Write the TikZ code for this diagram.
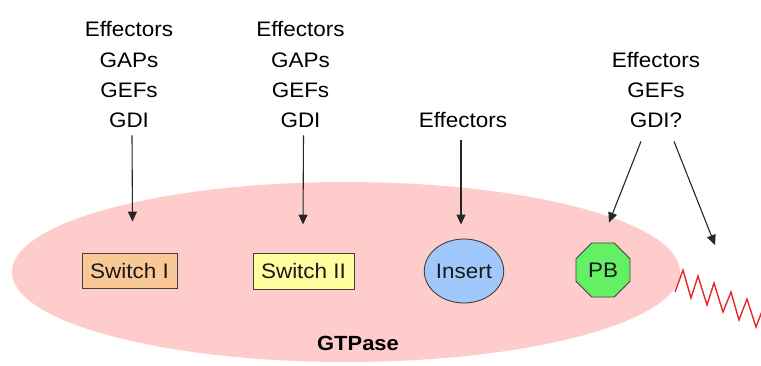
\documentclass[tikz,border=0pt]{standalone}
\usepackage{fontspec}
\setmainfont[FakeStretch=1.07]{Liberation Sans}
\usetikzlibrary{arrows.meta,shapes.geometric,calc}
\definecolor{membrane}{RGB}{255,204,204}
\definecolor{swone}{RGB}{250,200,150}
\definecolor{swtwo}{RGB}{255,255,160}
\definecolor{insertblue}{RGB}{160,200,250}
\definecolor{pbgreen}{RGB}{100,240,100}
\definecolor{coil}{RGB}{228,40,44}
\tikzset{
  lbl/.style={font=\fontsize{21}{25}\selectfont, inner sep=0pt, anchor=base},
  region/.style={draw=black!75, line width=0.9pt, inner sep=0pt,
                 font=\fontsize{21}{25}\selectfont, text=black!90},
  hit/.style={draw=black!85, line width=1.1pt,
              -{Triangle[length=10pt,width=9pt]}},
}
\begin{document}
\begin{tikzpicture}[x=1pt,y=-1pt]
\useasboundingbox (0,0) rectangle (761,365);

% the GTPase body
\fill[membrane] (346,272) ellipse [x radius=334, y radius=90];
\node[font=\fontsize{20.5}{24}\selectfont\bfseries, inner sep=0pt, anchor=base] (gtp) at (358,350) {GTPase};

% structural regions
\node[region, fill=swone, rectangle, minimum width=95pt, minimum height=35pt] (sw1) at (129.5,270.5) {Switch I};
\node[region, fill=swtwo, rectangle, minimum width=101pt, minimum height=36pt] (sw2) at (303.5,271) {Switch II};
\node[region, fill=insertblue, ellipse, minimum width=76pt, minimum height=64pt] (ins) at (464,271) {Insert};
\node[region, fill=pbgreen, regular polygon, regular polygon sides=8, minimum size=58.5pt] (pb) at (603,270) {PB};

% C-terminal tail
\draw[coil, line width=1.4pt, line join=miter]
  (675,292) -- (683,270) -- (691,298) -- (698,276) -- (707,305) -- (714,283)
  -- (723,312) -- (731,292) -- (739,320) -- (747,299) -- (756,327) -- (764,306);
\coordinate (tail) at (715,245);

% interacting partners
\node[lbl] (c1a) at (129,36) {Effectors};
\node[lbl] (c1b) at (129,67) {GAPs};
\node[lbl] (c1c) at (129,97) {GEFs};
\node[lbl] (c1d) at (129,127) {GDI};

\node[lbl] (c2a) at (300.5,36) {Effectors};
\node[lbl] (c2b) at (300.5,67) {GAPs};
\node[lbl] (c2c) at (300.5,97) {GEFs};
\node[lbl] (c2d) at (300.5,127) {GDI};

\node[lbl] (c3a) at (463,127) {Effectors};

\node[lbl] (c4a) at (656,67) {Effectors};
\node[lbl] (c4b) at (656,97) {GEFs};
\node[lbl] (c4c) at (656,127) {GDI?};

% arrows
\draw[hit] ($(c1d.south)+(3,8)$) -- ($(sw1.north)+(3,-31)$);
\draw[hit] ($(c2d.south)+(3,8)$) -- ($(sw2.north)+(-0.5,-28)$);
\draw[hit] ($(c3a.south)+(-2,13)$) -- ($(ins.north)+(-3,-14)$);
\draw[hit] ($(c4c.south)+(-15,14)$) -- ($(pb.north)+(6,-20)$);
\draw[hit] ($(c4c.south)+(18,14)$) -- (tail);
\end{tikzpicture}
\end{document}
